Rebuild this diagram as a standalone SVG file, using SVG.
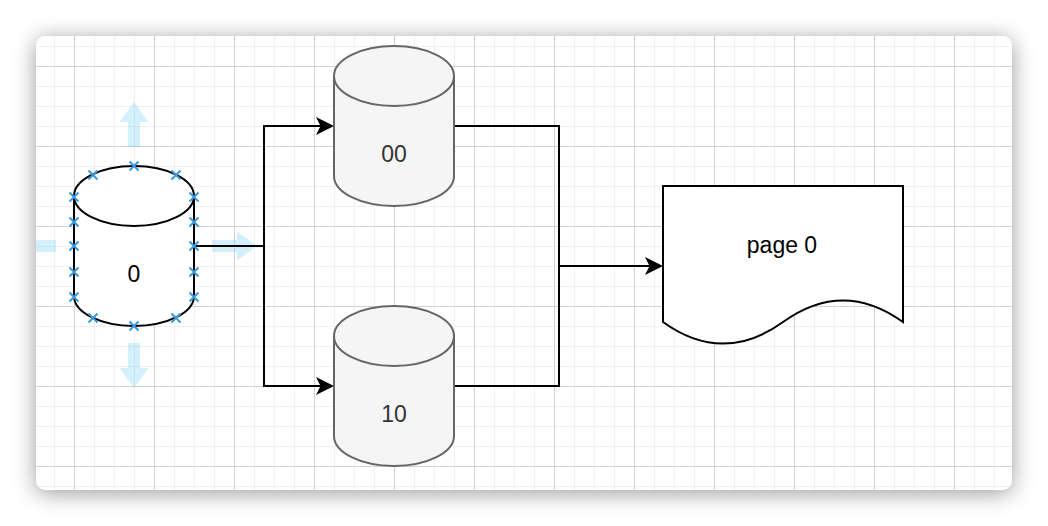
<svg xmlns="http://www.w3.org/2000/svg" xmlns:xlink="http://www.w3.org/1999/xlink" width="1048" height="526" viewBox="0 0 1048 526">
  <style>
    .lbl { font-family: "Liberation Sans", Arial, Helvetica, sans-serif; font-size: 23px; text-anchor: middle; }
    .edge { fill: none; stroke: #000; stroke-width: 2; }
    .cyl-w { fill: #fff; stroke: #000; stroke-width: 2; }
    .cyl-g { fill: #f5f5f5; stroke: #666; stroke-width: 2; }
    .cx { stroke: #3a9ad9; stroke-width: 2; fill: none; }
    .hov { fill: #29b6f2; opacity: 0.2; }
  </style>
  <defs>
    <filter id="shadow" x="-10%" y="-20%" width="120%" height="140%">
      <feDropShadow dx="0" dy="3" stdDeviation="11" flood-color="#000" flood-opacity="0.4"/>
    </filter>
    <pattern id="grid" patternUnits="userSpaceOnUse" x="74" y="66" width="80" height="80">
      <g stroke="#f0f0f0" stroke-width="1">
        <line x1="20.5" y1="0" x2="20.5" y2="80"/>
        <line x1="40.5" y1="0" x2="40.5" y2="80"/>
        <line x1="60.5" y1="0" x2="60.5" y2="80"/>
        <line x1="0" y1="20.5" x2="80" y2="20.5"/>
        <line x1="0" y1="40.5" x2="80" y2="40.5"/>
        <line x1="0" y1="60.5" x2="80" y2="60.5"/>
      </g>
      <g stroke="#d2d2d2" stroke-width="1">
        <line x1="0.5" y1="0" x2="0.5" y2="80"/>
        <line x1="0" y1="0.5" x2="80" y2="0.5"/>
      </g>
    </pattern>
    <clipPath id="cardClip">
      <rect x="36" y="36" width="976" height="454" rx="10" ry="10"/>
    </clipPath>
    <marker id="arr" viewBox="-20 -10 20 20" refX="-10" refY="0" markerWidth="20" markerHeight="20" markerUnits="userSpaceOnUse" orient="auto">
      <path d="M0,0 L-18,-9 L-13.5,0 L-18,9 Z" fill="#000"/>
    </marker>
    <path id="hovArrow" d="M0,-6 H25 V-14.5 L45,0 L25,14.5 V6 H0 Z"/>
    <path id="xmark" d="M-4.5,-4.5 L4.5,4.5 M-4.5,4.5 L4.5,-4.5"/>
  </defs>

  <!-- card -->
  <rect x="36" y="36" width="976" height="454" rx="10" ry="10" fill="#fff" filter="url(#shadow)"/>
  <rect x="36" y="36" width="976" height="454" rx="10" ry="10" fill="url(#grid)"/>

  <!-- hover arrows around selected node -->
  <g id="hover-arrows" clip-path="url(#cardClip)">
    <use xlink:href="#hovArrow" class="hov" transform="translate(134,147) rotate(-90)"/>
    <use xlink:href="#hovArrow" class="hov" transform="translate(212,246)"/>
    <use xlink:href="#hovArrow" class="hov" transform="translate(134,343) rotate(90)"/>
    <use xlink:href="#hovArrow" class="hov" transform="translate(56,246) rotate(180)"/>
  </g>

  <!-- connectors -->
  <g id="connectors">
    <path class="edge" d="M194,246 H264 V126 H324" marker-end="url(#arr)"/>
    <path class="edge" d="M194,246 H264 V386 H324" marker-end="url(#arr)"/>
    <path class="edge" d="M454,126 H559 V266 H653" marker-end="url(#arr)"/>
    <path class="edge" d="M454,386 H559 V266"/>
  </g>

  <!-- node 0 (selected) -->
  <g id="node-0">
    <path class="cyl-w" d="M74,196 A60,30 0 0 1 194,196 V296 A60,30 0 0 1 74,296 Z"/>
    <path class="cyl-w" fill="none" d="M74,196 A60,30 0 0 0 194,196"/>
    <text class="lbl" x="134" y="282" fill="#000">0</text>
    <g class="cx">
      <use xlink:href="#xmark" x="134" y="166"/>
      <use xlink:href="#xmark" x="93" y="175"/>
      <use xlink:href="#xmark" x="176" y="175"/>
      <use xlink:href="#xmark" x="74" y="197"/>
      <use xlink:href="#xmark" x="74" y="222"/>
      <use xlink:href="#xmark" x="74" y="246"/>
      <use xlink:href="#xmark" x="74" y="272"/>
      <use xlink:href="#xmark" x="74" y="297"/>
      <use xlink:href="#xmark" x="194" y="197"/>
      <use xlink:href="#xmark" x="194" y="222"/>
      <use xlink:href="#xmark" x="194" y="246"/>
      <use xlink:href="#xmark" x="194" y="272"/>
      <use xlink:href="#xmark" x="194" y="297"/>
      <use xlink:href="#xmark" x="93" y="318"/>
      <use xlink:href="#xmark" x="176" y="318"/>
      <use xlink:href="#xmark" x="134" y="326"/>
    </g>
  </g>

  <!-- node 00 -->
  <g id="node-00">
    <path class="cyl-g" d="M334,76 A60,30 0 0 1 454,76 V176 A60,30 0 0 1 334,176 Z"/>
    <path class="cyl-g" fill="none" d="M334,76 A60,30 0 0 0 454,76"/>
    <text class="lbl" x="394" y="162" fill="#333">00</text>
  </g>

  <!-- node 10 -->
  <g id="node-10">
    <path class="cyl-g" d="M334,336 A60,30 0 0 1 454,336 V436 A60,30 0 0 1 334,436 Z"/>
    <path class="cyl-g" fill="none" d="M334,336 A60,30 0 0 0 454,336"/>
    <text class="lbl" x="394" y="422" fill="#333">10</text>
  </g>

  <!-- node page 0 -->
  <g id="node-page0">
    <path d="M663,186 H903 V322 Q843,278.8 783,322 Q723,365.2 663,322 Z" fill="#fff" stroke="#000" stroke-width="2"/>
    <text class="lbl" x="782" y="253" fill="#000">page 0</text>
  </g>
</svg>
